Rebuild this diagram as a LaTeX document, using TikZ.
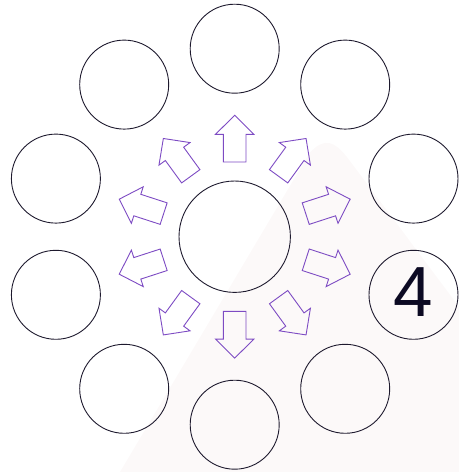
\documentclass[tikz,border=0pt]{standalone}
\usepackage{fontspec}
\setmainfont{Liberation Sans}
\definecolor{ringc}{RGB}{30,26,46}
\definecolor{arrc}{RGB}{125,75,195}
\definecolor{wmark}{RGB}{252,249,249}
\definecolor{numc}{RGB}{12,10,35}
\begin{document}
\begin{tikzpicture}[x=1pt,y=1pt,
  ring/.style={circle,draw=ringc,line width=0.9pt,inner sep=0pt},
  outring/.style={ring,minimum size=89pt},
  arrowshape/.style={draw=arrc,line width=0.9pt,line join=miter}]
\useasboundingbox (-234.7,-235.3) rectangle (224.3,236.7);
% faint watermark
\fill[wmark] (-114.7,-235.3) -- (75,84) .. controls (90,100) and (100,95) .. (112,80) -- (224.3,-70) -- (224.3,-235.3) -- cycle;
\node[ring,minimum size=111.4pt] (c) at (0,0) {};
\foreach \k in {0,...,9}{
  \pgfmathsetmacro{\a}{90-36*\k}
  \node[outring] (o\k) at (\a:188) {};
  \begin{scope}[rotate=\a]
    \draw[arrowshape] (74.7,-11.3) -- (102.4,-11.3) -- (102.4,-19.2) -- (121.4,0) -- (102.4,19.2) -- (102.4,11.3) -- (74.7,11.3) -- cycle;
  \end{scope}
}
\node[text=numc,font=\fontsize{71}{71}\selectfont,inner sep=0pt] (n4) at ([yshift=3pt]o3.center) {4};
\end{tikzpicture}
\end{document}
